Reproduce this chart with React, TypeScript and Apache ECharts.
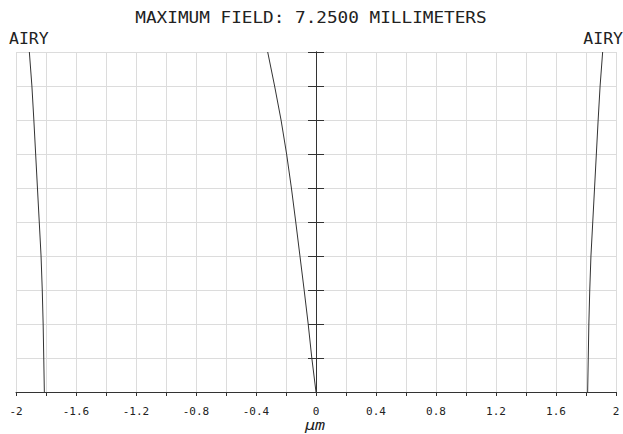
import React, { useEffect, useRef } from "react";
import * as echarts from "echarts";

const fieldFraction = [0, 0.1, 0.2, 0.3, 0.4, 0.5, 0.6, 0.7, 0.8, 0.9, 1.0];
const airyRadius = [1.811, 1.815, 1.819, 1.825, 1.833, 1.845, 1.857, 1.869, 1.881, 1.894, 1.911];
const lateralColor = [0, -0.028, -0.052, -0.079, -0.107, -0.135, -0.164, -0.196, -0.233, -0.276, -0.322];

const titleText = "MAXIMUM FIELD: 7.2500 MILLIMETERS";
const airyLabel = "AIRY";
const unitLabel = "\u03bcm";

const FONT = "'DejaVu Sans Mono', monospace";
const LINE = "#333";
const GRIDC = "#dcdcdc";
const TEXTC = "#222";

export default function App() {
  const ref = useRef<HTMLDivElement>(null);
  useEffect(() => {
    if (!ref.current) return;
    const chart = echarts.init(ref.current, undefined, { renderer: "svg" });
    const mk = (xs: number[]) => xs.map((x, i) => [x, fieldFraction[i]]);
    const lineSeries = (data: number[][]) => ({
      type: "line",
      data,
      showSymbol: false,
      smooth: false,
      lineStyle: { color: LINE, width: 1 },
      xAxisIndex: 0,
      yAxisIndex: 0,
      silent: true,
    });
    chart.setOption({
      animation: false,
      backgroundColor: "#fff",
      grid: { left: 16, right: 7, top: 52, bottom: 42 },
      xAxis: {
        type: "value",
        min: -2,
        max: 2,
        interval: 0.2,
        axisLine: { show: true, onZero: false, lineStyle: { color: LINE, width: 1 } },
        axisTick: { show: true, length: 4, lineStyle: { color: LINE } },
        splitLine: { show: true, lineStyle: { color: GRIDC, width: 1 } },
        axisLabel: {
          margin: 14,
          fontFamily: FONT,
          fontSize: 11,
          color: TEXTC,
          formatter: (v: number) => {
            const k = Math.round(v * 10);
            if (k % 4 !== 0) return "";
            return String(k / 10);
          },
        },
      },
      yAxis: [
        {
          type: "value",
          min: 0,
          max: 1,
          interval: 0.1,
          position: "left",
          axisLine: { show: true, onZero: true, onZeroAxisIndex: 0, lineStyle: { color: LINE, width: 1 } },
          axisTick: { show: true, length: 8, inside: false, lineStyle: { color: LINE } },
          axisLabel: { show: false },
          splitLine: { show: true, lineStyle: { color: GRIDC, width: 1 } },
        },
        {
          type: "value",
          min: 0,
          max: 1,
          interval: 0.1,
          position: "left",
          axisLine: { show: true, onZero: true, onZeroAxisIndex: 0, lineStyle: { color: LINE, width: 1 } },
          axisTick: { show: true, length: 8, inside: true, lineStyle: { color: LINE } },
          axisLabel: { show: false },
          splitLine: { show: false },
        },
      ],
      series: [
        lineSeries(mk(airyRadius.map((r) => -r))),
        lineSeries(mk(airyRadius)),
        lineSeries(mk(lateralColor)),
      ],
      graphic: [
        {
          type: "text",
          x: 311,
          y: 18,
          scaleX: 1.18,
          style: {
            text: titleText,
            font: `15px ${FONT}`,
            fill: TEXTC,
            textAlign: "center",
            textVerticalAlign: "middle",
          },
        },
        {
          type: "text",
          x: 9,
          y: 39,
          scaleX: 1.1,
          style: {
            text: airyLabel,
            font: `15px ${FONT}`,
            fill: TEXTC,
            textAlign: "left",
            textVerticalAlign: "middle",
          },
        },
        {
          type: "text",
          x: 623,
          y: 39,
          scaleX: 1.1,
          style: {
            text: airyLabel,
            font: `15px ${FONT}`,
            fill: TEXTC,
            textAlign: "right",
            textVerticalAlign: "middle",
          },
        },
        {
          type: "text",
          x: 315,
          y: 425,
          scaleX: 1.2,
          style: {
            text: unitLabel,
            font: `italic 14px ${FONT}`,
            fill: TEXTC,
            textAlign: "center",
            textVerticalAlign: "middle",
          },
        },
      ],
    });
    return () => chart.dispose();
  }, []);
  return (
    <div
      ref={ref}
      style={{ position: "absolute", left: 0, top: 0, width: 623, height: 434 }}
    />
  );
}
